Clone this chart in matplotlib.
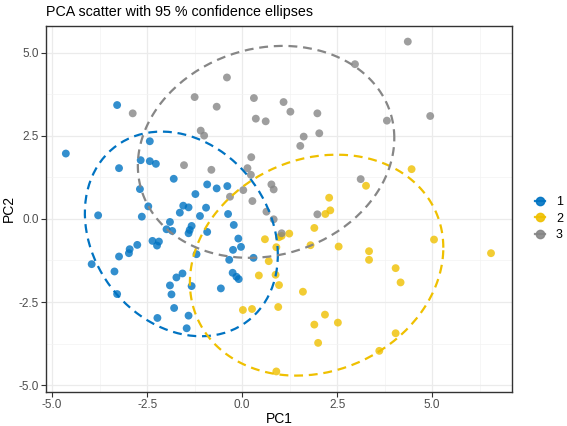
import numpy as np
import matplotlib
matplotlib.use("Agg")
import matplotlib.pyplot as plt
from matplotlib.lines import Line2D
from matplotlib.ticker import MultipleLocator, FormatStrFormatter

plt.rcParams.update({
    "font.family": ["Liberation Sans", "DejaVu Sans"],
    "font.size": 9,
    "axes.unicode_minus": False,
})

# ---------------------------------------------------------------------------
# Data
# ---------------------------------------------------------------------------
groups = ["1", "2", "3"]
colors = ["#0073C2", "#EFC000", "#868686"]

pc1_g1 = [-4.64, -3.29, -3.24, -2.43, -2.67, -2.43, -2.27, -1.80, -2.69, -1.23,
          -0.92, -0.67, -0.39, -2.47, -1.55, -1.41, -0.95, -1.64, -1.11, -0.37,
          -3.79, -2.64, -1.90, -0.22, -1.33, -1.99, -1.84, -1.38, -1.41, -0.92,
          -0.10, -2.36, -2.19, -2.24, -2.76, -2.96, -2.98, -3.24, -0.03, -0.24,
          -1.20, -0.34, 0.30, -3.96, -3.36, -0.25, -0.15, -0.09, -1.57, -1.73,
          -1.90, -1.33, -0.56, -1.86, -3.29, -1.79, -2.23, -1.41, -1.46]
pc2_g1 = [1.97, 3.43, 1.53, 2.34, 1.77, 1.74, 1.66, 1.21, 0.90, 0.75,
          1.04, 0.92, 0.99, 0.38, 0.40, 0.35, 0.34, 0.19, 0.09, 0.15,
          0.11, 0.07, -0.09, -0.18, -0.21, -0.31, -0.36, -0.33, -0.43, -0.39,
          -0.59, -0.66, -0.68, -0.80, -0.78, -0.91, -1.03, -1.13, -0.84, -0.93,
          -1.06, -1.23, -1.17, -1.36, -1.58, -1.62, -1.74, -1.81, -1.64, -1.76,
          -2.00, -2.02, -2.09, -2.27, -2.26, -2.68, -2.98, -2.91, -3.29]

pc1_g2 = [4.46, 3.26, 2.29, 2.32, 2.19, 1.90, 1.24, 0.97, 1.04, 0.60,
          0.90, 1.80, 2.54, 3.34, 3.34, 5.05, 6.55, 0.70, 4.04, 4.17,
          0.44, 0.88, 0.97, 1.60, 0.02, 0.26, 0.95, 2.18, 1.90, 2.52,
          2.00, 4.04, 3.61, 0.90]
pc2_g2 = [1.50, 1.00, 0.64, 0.26, 0.15, -0.27, -0.44, -0.55, -0.51, -0.61,
          -0.85, -0.79, -0.83, -0.97, -1.23, -0.62, -1.03, -1.27, -1.48, -1.91,
          -1.70, -1.68, -1.99, -2.19, -2.74, -2.71, -2.65, -2.88, -3.18, -3.12,
          -3.73, -3.44, -3.97, -4.59]

pc1_g3 = [-0.40, -1.25, -0.67, -2.88, -1.09, -1.00, -1.53, -0.81, -0.32, 0.03,
          4.36, 2.97, 0.31, 1.09, 1.27, 1.98, 0.36, 0.62, 4.95, 3.81,
          1.62, 2.03, 1.53, 0.24, 0.14, 0.23, 0.77, 0.83, 3.12, 0.27,
          0.64, 0.83, 1.98, 1.04]
pc2_g3 = [4.26, 3.67, 3.38, 3.18, 2.66, 2.51, 1.62, 1.48, 0.67, 0.87,
          5.34, 4.66, 3.64, 3.52, 3.23, 3.18, 3.02, 2.94, 3.10, 2.96,
          2.48, 2.58, 2.20, 1.86, 1.53, 1.33, 1.04, 0.89, 1.20, 0.54,
          0.22, -0.01, 0.14, -0.43]

# 95 % ellipses: centre and shape matrix [[a11, a12], [a12, a22]]
ell_center_x = [-1.60, 1.96, 0.63]
ell_center_y = [-0.45, -1.39, 2.02]
ell_a11 = [6.45, 11.12, 11.39]
ell_a22 = [9.49, 11.06, 10.18]
ell_a12 = [-1.60, 1.75, 1.40]

pc1 = [pc1_g1, pc1_g2, pc1_g3]
pc2 = [pc2_g1, pc2_g2, pc2_g3]


def ellipse_path(cx, cy, a11, a22, a12, n=200):
    L = np.linalg.cholesky(np.array([[a11, a12], [a12, a22]]))
    t = np.linspace(0, 2 * np.pi, n)
    pts = L @ np.vstack([np.cos(t), np.sin(t)])
    return cx + pts[0], cy + pts[1]


# ---------------------------------------------------------------------------
# Figure
# ---------------------------------------------------------------------------
fig = plt.figure(figsize=(5.67, 4.26), dpi=100)
ax = fig.add_axes([0.0806, 0.0805, 0.8229, 0.8585])

for i in range(3):
    ax.scatter(pc1[i], pc2[i], s=32, color=colors[i], alpha=0.8,
               edgecolors="none", zorder=3)
    ex, ey = ellipse_path(ell_center_x[i], ell_center_y[i],
                          ell_a11[i], ell_a22[i], ell_a12[i])
    ax.plot(ex, ey, color=colors[i], lw=1.6, ls=(0, (4, 2.6)), zorder=4)

ax.set_xlim(-5.17, 7.11)
ax.set_ylim(-5.20, 5.81)
ax.xaxis.set_major_locator(MultipleLocator(2.5))
ax.yaxis.set_major_locator(MultipleLocator(2.5))
ax.xaxis.set_minor_locator(MultipleLocator(1.25))
ax.yaxis.set_minor_locator(MultipleLocator(1.25))
ax.xaxis.set_major_formatter(FormatStrFormatter("%.1f"))
ax.yaxis.set_major_formatter(FormatStrFormatter("%.1f"))

ax.grid(which="major", color="#EBEBEB", lw=0.9, zorder=0)
ax.grid(which="minor", color="#F3F3F3", lw=0.5, zorder=0)
ax.set_axisbelow(True)
for sp in ax.spines.values():
    sp.set_color("#333333")
    sp.set_linewidth(1.0)
ax.tick_params(which="major", length=3.5, width=0.8, color="#333333",
               labelcolor="#4D4D4D", labelsize=8.5, pad=1.5)
ax.tick_params(which="minor", length=0)

ax.set_xlabel("PC1", fontsize=10, labelpad=1)
ax.set_ylabel("PC2", fontsize=10, labelpad=2)
ax.set_title("PCA scatter with 95 % confidence ellipses", loc="left",
             fontsize=10.3, pad=7)

handles = [Line2D([0], [0], color=c, marker="o", markersize=6, lw=1.6,
                  ls="-", alpha=0.9) for c in colors]
fig.legend(handles, groups, loc="center left", bbox_to_anchor=(0.943, 0.487),
           frameon=False, handlelength=0.8, handletextpad=0.9,
           labelspacing=0.35, fontsize=9, borderpad=0, borderaxespad=0)

fig.savefig("out.png", dpi=100, facecolor="white")
